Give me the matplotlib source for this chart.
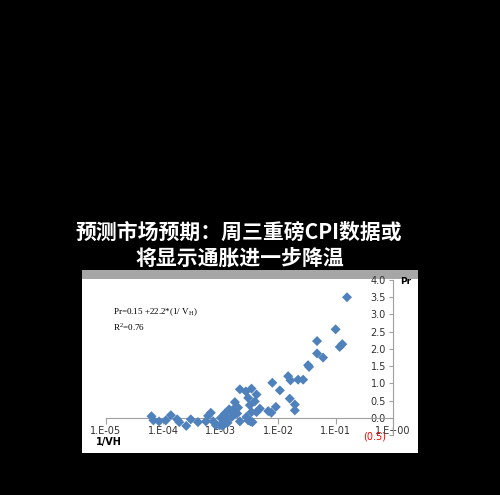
import matplotlib.pyplot as plt
from matplotlib.patches import Rectangle
from matplotlib.ticker import FixedLocator, FuncFormatter

# data: 1/VH (log axis) against Pr
inv_vh = [6.2e-5, 6.7e-5, 8.4e-5, 1.1e-4, 1.35e-4, 1.74e-4, 1.89e-4, 2.5e-4,
          3.0e-4, 4.0e-4, 5.5e-4, 6.0e-4, 6.7e-4, 7.4e-4, 8.2e-4, 9.6e-4,
          1.07e-3, 1.18e-3, 1.26e-3, 1.31e-3, 1.40e-3, 1.54e-3, 1.64e-3, 1.76e-3,
          1.83e-3, 1.93e-3, 2.15e-3, 2.15e-3, 2.73e-3, 3.0e-3, 2.8e-3, 3.0e-3,
          3.43e-3, 3.2e-3, 3.43e-3, 3.56e-3, 3.92e-3, 4.19e-3, 4.19e-3, 4.79e-3,
          6.7e-3, 7.6e-3, 7.9e-3, 9.1e-3, 1.07e-2, 1.49e-2, 1.64e-2, 1.59e-2,
          1.95e-2, 1.95e-2, 2.22e-2, 2.72e-2, 3.32e-2, 3.45e-2, 4.75e-2, 4.75e-2,
          6.05e-2, 1.0e-1, 1.18e-1, 1.31e-1, 1.58e-1,
          1.6e-3, 1.2e-3, 2.0e-3, 3.3e-3, 1.0e-3]
pr = [0.05, -0.07, -0.10, -0.07, 0.08, -0.04, -0.12, -0.23,
      -0.04, -0.12, -0.10, 0.06, 0.15, -0.10, -0.21, -0.21,
      -0.23, 0.13, -0.02, -0.14, 0.25, 0.03, 0.17, 0.46,
      0.32, 0.13, 0.83, -0.10, 0.77, 0.58, 0.03, -0.07,
      0.85, 0.37, 0.17, -0.12, 0.48, 0.68, 0.17, 0.27,
      0.20, 0.15, 1.02, 0.32, 0.80, 1.21, 1.09, 0.56,
      0.39, 0.22, 1.11, 1.11, 1.53, 1.48, 2.23, 1.87,
      1.75, 2.57, 2.06, 2.14, 3.50,
      0.05, -0.15, 0.30, -0.10, 0.0]
x_ticks = [1e-5, 1e-4, 1e-3, 1e-2, 1e-1, 1e0]
x_tick_labels = ['1.E-05', '1.E-04', '1.E-03', '1.E-02', '1.E-01', '1.E+00']
y_ticks = [-0.5, 0.0, 0.5, 1.0, 1.5, 2.0, 2.5, 3.0, 3.5, 4.0]

W, H = 500, 495
fig = plt.figure(figsize=(5, 4.95), dpi=100, facecolor='black')

# white chart panel with grey strip on top (behind everything)
fig.patches.append(Rectangle((82 / W, 1 - 453 / H), 336 / W, 183 / H, zorder=-10,
                             transform=fig.transFigure, facecolor='white', edgecolor='none'))
fig.patches.append(Rectangle((82 / W, 1 - 279 / H), 336 / W, 9 / H, zorder=-10,
                             transform=fig.transFigure, facecolor='#a6a6a6', edgecolor='none'))

# title
title_font = ['Noto Sans CJK SC', 'DejaVu Sans']
fig.text(239 / W, 1 - 232 / H, '预测市场预期：周三重磅CPI数据或', color='white',
         fontsize=15, fontweight='bold', family=title_font, ha='center', va='center')
fig.text(240 / W, 1 - 258 / H, '将显示通胀进一步降温', color='white',
         fontsize=15, fontweight='bold', family=title_font, ha='center', va='center')

ax = fig.add_axes([106 / W, 1 - 435.2 / H, 287 / W, 155.2 / H])
ax.set_zorder(5)
ax.patch.set_alpha(0)
ax.scatter(inv_vh, pr, marker='D', s=26, color='#4f81bd', edgecolors='none', zorder=3,
           clip_on=False)
ax.set_xscale('log')
ax.set_xlim(1e-5, 1e0)
ax.set_ylim(-0.5, 4.0)

for side in ['top', 'right']:
    ax.spines[side].set_visible(False)
ax.spines['bottom'].set_position(('data', 0))
ax.spines['left'].set_position(('data', 1.0))
ax.spines['bottom'].set_color('#a0a0a0')
ax.spines['left'].set_color('#a0a0a0')

ax.xaxis.set_major_locator(FixedLocator(x_ticks))
ax.xaxis.set_minor_locator(FixedLocator([]))
ax.set_xticklabels(x_tick_labels)
ax.yaxis.set_major_locator(FixedLocator(y_ticks))
ax.yaxis.set_major_formatter(FuncFormatter(lambda v, p: '(%.1f)' % abs(v) if v < 0 else '%.1f' % v))
ax.tick_params(axis='x', direction='out', length=4, color='#a0a0a0', labelsize=7,
               labelcolor='#303030', pad=2)
ax.tick_params(axis='y', direction='out', length=3, color='#a0a0a0', labelsize=7,
               labelcolor='#303030', pad=2)
fig.canvas.draw()
ax.get_yticklabels()[0].set_color('#ff0000')

fig.text(96 / W, 1 - 442 / H, '1/VH', fontsize=7, fontweight='bold', ha='left', va='center')
fig.text(400 / W, 1 - 282 / H, 'Pr', fontsize=6.5, fontweight='bold', ha='left', va='center')

fig.text(113 / W, 1 - 312 / H, 'Pr=0.15 +22.2*(1/ V$_\\mathregular{H}$)', fontsize=6.5,
         family='Liberation Serif', ha='left', va='center')
fig.text(113 / W, 1 - 327 / H, 'R$^\\mathregular{2}$=0.76', fontsize=6.5,
         family='Liberation Serif', ha='left', va='center')

fig.savefig('out.png', dpi=100, facecolor='black')
